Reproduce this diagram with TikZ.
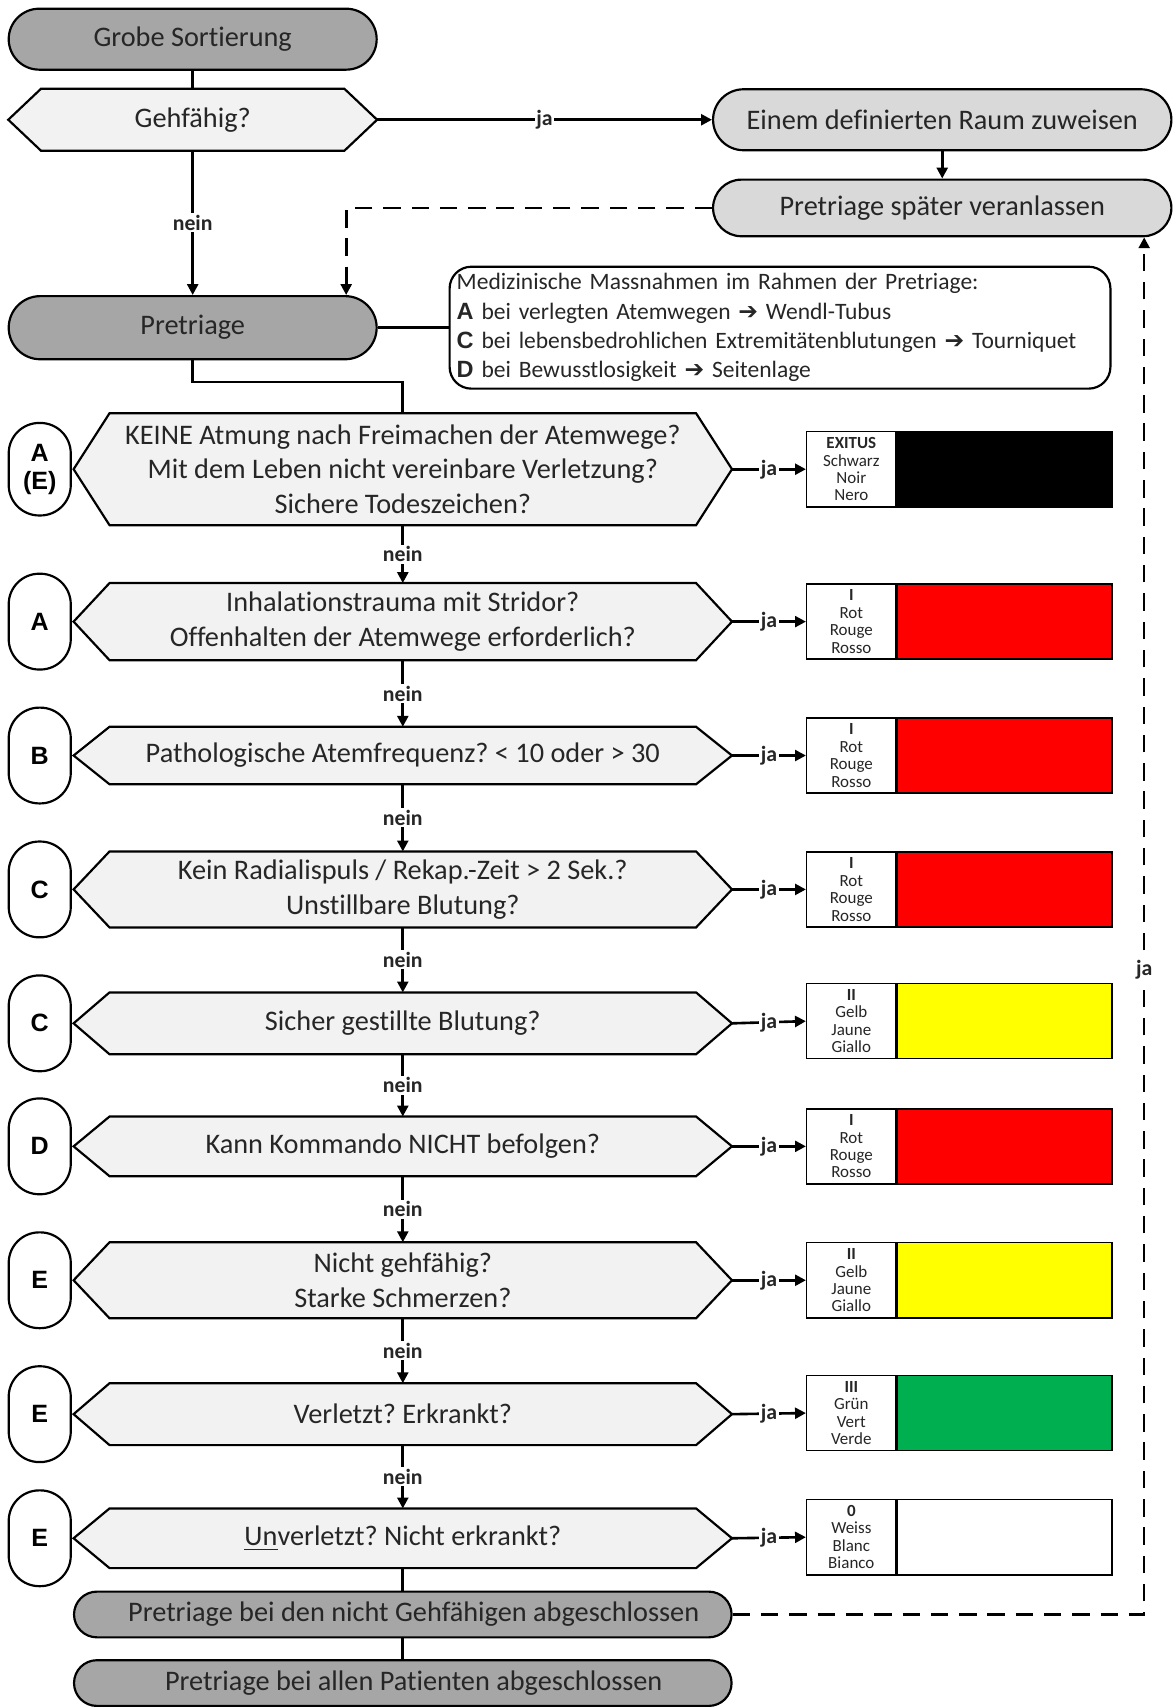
\documentclass[tikz,border=0pt]{standalone}
\usepackage{fontspec}
\setmainfont[Ligatures=NoCommon]{Carlito}
\newfontfamily\lsans{Liberation Sans}
\newfontfamily\dvs{DejaVu Sans}
\usetikzlibrary{shapes.misc,arrows.meta,backgrounds,calc}
\frenchspacing

\definecolor{darkbox}{HTML}{A6A6A6}
\definecolor{lightbox}{HTML}{D9D9D9}
\definecolor{hexfill}{HTML}{F2F2F2}
\definecolor{tred}{HTML}{FF0000}
\definecolor{tyellow}{HTML}{FFFF00}
\definecolor{tgreen}{HTML}{00B050}
\definecolor{txt}{HTML}{262626}

\newcommand{\mbl}[1]{{\lsans\bfseries #1}}
\newcommand{\rarr}{{\dvs\bfseries ➔}}

\newcommand{\hexpath}[2]{%
  \begin{scope}[on background layer]
  \draw[hexline] (#1.west) -- ([xshift=#2]#1.north west) -- ([xshift=-#2]#1.north east) -- (#1.east) -- ([xshift=-#2]#1.south east) -- ([xshift=#2]#1.south west) -- cycle;
  \end{scope}}

\tikzset{
 base/.style={font=\fontsize{13}{16}\selectfont, text=txt},
 term/.style={base, rounded rectangle, draw, line width=1pt, fill=darkbox, minimum height=28pt, inner sep=0pt},
 termlight/.style={term, fill=lightbox},
 qnode/.style={base, rectangle, minimum width=302pt, inner sep=0pt, align=center},
 hexline/.style={draw, line width=1pt, fill=hexfill},
 tag/.style={draw, line width=1pt, rounded corners=14pt, minimum width=28.5pt, minimum height=44pt, font=\lsans\bfseries\fontsize{11.5}{13}\selectfont, align=center, inner sep=0pt},
 lbl/.style={draw, line width=0.7pt, fill=white, minimum width=41pt, minimum height=34.5pt, inner sep=0pt, align=center, font=\fontsize{7.8}{8}\selectfont, text=txt},
 col/.style={draw, line width=0.7pt, minimum width=98.5pt, minimum height=34.5pt, inner sep=0pt, anchor=west},
 medbox/.style={draw, line width=1pt, rounded corners=10pt, minimum width=303.5pt, minimum height=56pt, text width=297pt, align=left, font=\fontsize{10.8}{13.5}\selectfont, inner xsep=3pt, inner ysep=0pt, text=txt},
 conn/.style={line width=1.2pt},
 arr/.style={conn, -{Triangle[length=5pt,width=5pt]}},
 yes/.style={font=\bfseries\fontsize{10}{10}\selectfont, fill=white, inner sep=0.8pt, text=txt},
 dashline/.style={line width=1.2pt, dash pattern=on 8pt off 5pt},
}

\begin{document}
\begin{tikzpicture}[x=0.5pt,y=-0.5pt]
\useasboundingbox (0,0) rectangle (1078,1568);

% top part
\node[term, minimum width=169pt] (grobe) at (177,36) {Grobe Sortierung};
\node[qnode, minimum width=169pt, minimum height=28pt] (geh) at (177,110) {Gehfähig?};
\hexpath{geh}{15pt}
\node[termlight, minimum width=210.5pt] (raum) at (865.5,110) {Einem definierten Raum zuweisen};
\node[termlight, minimum width=210.5pt, minimum height=26pt] (spaet) at (865.5,191) {Pretriage später veranlassen};
\node[term, minimum width=169pt, minimum height=29pt] (pre) at (177,301) {Pretriage};
\node[medbox] (med) at (716.5,301) {Medizinische Massnahmen im Rahmen der Pretriage:\\
\mbl{A} bei verlegten Atemwegen \rarr{} Wendl-Tubus\\
\mbl{C} bei lebensbedrohlichen Extremitätenblutungen \rarr{} Tourniquet\\
\mbl{D} bei Bewusstlosigkeit \rarr{} Seitenlage};

% questions
\node[qnode, minimum height=51pt] (q1) at (370,431) {KEINE Atmung nach Freimachen der Atemwege?\\Mit dem Leben nicht vereinbare Verletzung?\\Sichere Todeszeichen?};
\node[qnode, minimum height=35pt] (q2) at (370,571) {Inhalationstrauma mit Stridor?\\Offenhalten der Atemwege erforderlich?};
\node[qnode, minimum height=26pt] (q3) at (370,694) {Pathologische Atemfrequenz? < 10 oder > 30};
\node[qnode, minimum height=34.5pt] (q4) at (370,817) {Kein Radialispuls / Rekap.-Zeit > 2 Sek.?\\Unstillbare Blutung?};
\node[qnode, minimum height=28pt] (q5) at (370,940) {Sicher gestillte Blutung?};
\node[qnode, minimum height=27pt] (q6) at (370,1053) {Kann Kommando NICHT befolgen?};
\node[qnode, minimum height=34.5pt] (q7) at (370,1176) {Nicht gehfähig?\\Starke Schmerzen?};
\node[qnode, minimum height=28pt] (q8) at (370,1299) {Verletzt? Erkrankt?};
\node[qnode, minimum height=27pt] (q9) at (370,1413) {\underline{Un}verletzt? Nicht erkrankt?};
\foreach \i in {1,...,9} {\hexpath{q\i}{16.5pt}}

% tags
\node[tag, minimum height=42.5pt] (t1) at (36.5,431) {A\\(E)};
\node[tag] (t2) at (36.5,571) {A};
\node[tag] (t3) at (36.5,694) {B};
\node[tag] (t4) at (36.5,817) {C};
\node[tag] (t5) at (36.5,940) {C};
\node[tag] (t6) at (36.5,1053) {D};
\node[tag] (t7) at (36.5,1176) {E};
\node[tag] (t8) at (36.5,1299) {E};
\node[tag] (t9) at (36.5,1413) {E};

% triage colour boxes
\node[lbl] (l1) at (782,431) {\textbf{EXITUS}\\Schwarz\\Noir\\Nero};
\node[col, fill=black] (c1) at (l1.east) {};
\node[lbl] (l2) at (782,571) {\textbf{I}\\Rot\\Rouge\\Rosso};
\node[col, fill=tred] (c2) at (l2.east) {};
\node[lbl] (l3) at (782,694) {\textbf{I}\\Rot\\Rouge\\Rosso};
\node[col, fill=tred] (c3) at (l3.east) {};
\node[lbl] (l4) at (782,817) {\textbf{I}\\Rot\\Rouge\\Rosso};
\node[col, fill=tred] (c4) at (l4.east) {};
\node[lbl] (l5) at (782,938) {\textbf{II}\\Gelb\\Jaune\\Giallo};
\node[col, fill=tyellow] (c5) at (l5.east) {};
\node[lbl] (l6) at (782,1053) {\textbf{I}\\Rot\\Rouge\\Rosso};
\node[col, fill=tred] (c6) at (l6.east) {};
\node[lbl] (l7) at (782,1176) {\textbf{II}\\Gelb\\Jaune\\Giallo};
\node[col, fill=tyellow] (c7) at (l7.east) {};
\node[lbl] (l8) at (782,1298) {\textbf{III}\\Grün\\Vert\\Verde};
\node[col, fill=tgreen] (c8) at (l8.east) {};
\node[lbl] (l9) at (782,1412) {\textbf{0}\\Weiss\\Blanc\\Bianco};
\node[col, fill=white] (c9) at (l9.east) {};

% end boxes
\node[term, minimum width=302pt, minimum height=21pt] (done1) at (370,1483) {\hspace*{10pt}Pretriage bei den nicht Gehfähigen abgeschlossen};
\node[term, minimum width=302pt, minimum height=21pt] (done2) at (370,1546) {\hspace*{10pt}Pretriage bei allen Patienten abgeschlossen};

% connectors
\draw[conn] (grobe.south) -- (geh.north);
\draw[arr] (geh.east) -- node[yes]{ja} (raum.west);
\draw[arr] (raum.south) -- (spaet.north);
\draw[arr] (geh.south) -- node[yes]{nein} (pre.north);
\draw[dashline, -{Triangle[length=5pt,width=5pt]}] (spaet.west) -| ([xshift=70.5pt]pre.north);
\draw[conn] (pre.east) -- (med.west);
\draw[conn] (pre.south) -- ++(0,20) -| (q1.north);
\foreach \i/\j in {1/2,2/3,3/4,4/5,5/6,6/7,7/8,8/9} {
  \draw[arr] (q\i.south) -- node[yes]{nein} (q\j.north);
}
\foreach \i in {1,...,9} {
  \draw[arr] (q\i.east) -- node[yes]{ja} (l\i.west);
}
\draw[conn] (q9.south) -- (done1.north);
\draw[conn] (done1.south) -- (done2.north);
\draw[dashline, -{Triangle[length=5pt,width=5pt]}] (done1.east) -| node[yes, pos=0.734]{ja} ([xshift=92.75pt]spaet.south);
\end{tikzpicture}
\end{document}
